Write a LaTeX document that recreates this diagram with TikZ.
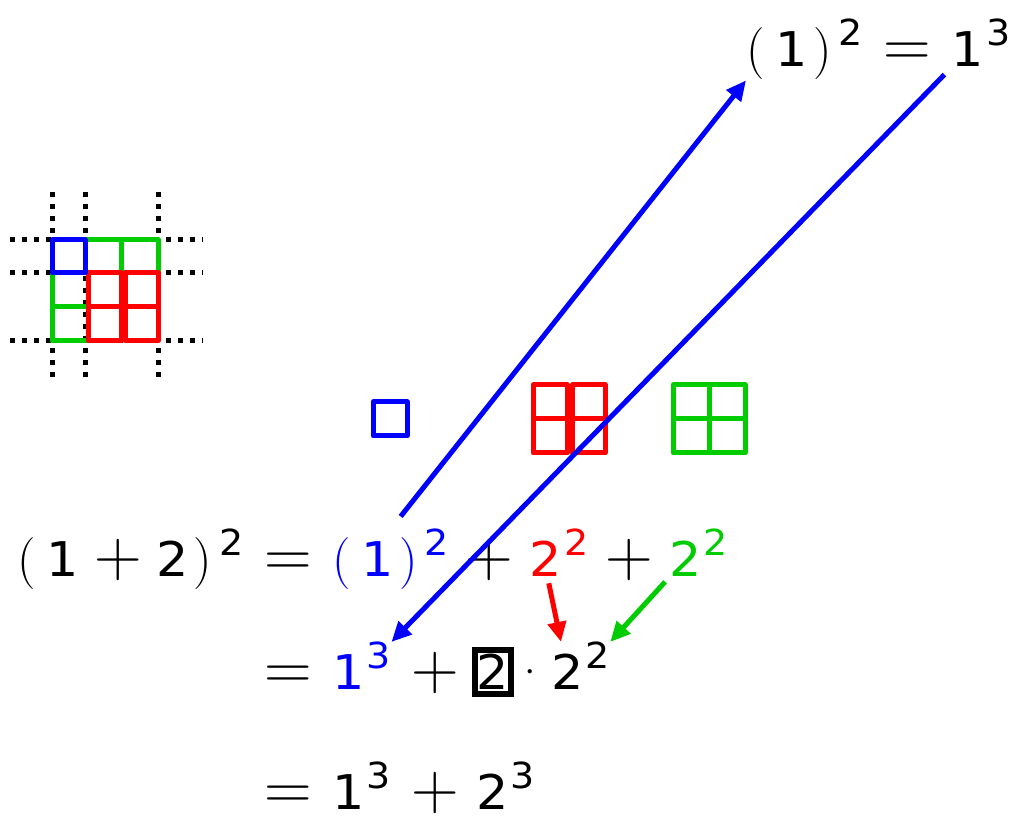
\documentclass[tikz,border=0pt]{standalone}
\usepackage{fontspec}
\newfontfamily\digfont[Scale=0.92, FakeStretch=1.06]{DejaVu Sans}
\usetikzlibrary{arrows.meta, positioning}
\definecolor{oneblue}{RGB}{0,0,255}
\definecolor{twored}{RGB}{255,0,0}
\definecolor{twogreen}{RGB}{0,204,0}
\newcommand{\dg}[1]{{\digfont #1}}
\newcommand{\pw}[1]{\kern1pt\raisebox{10.5pt}{\fontsize{19.5}{23}\selectfont\digfont #1}}
\newcommand{\op}[1]{{\fontsize{33}{40}\selectfont #1}}
\newcommand{\pr}[1]{(\kern5.5pt#1\kern2.5pt)\kern2.5pt}

\begin{document}
\begin{tikzpicture}[x=0.5pt, y=-0.5pt,
  eq/.style={inner sep=0pt, anchor=base west, font=\fontsize{26}{31}\selectfont},
  opn/.style={eq, font=\fontsize{33}{40}\selectfont},
  cell/.style={line width=2.5pt, line join=round},
  gridline/.style={line width=2.5pt, dash pattern=on 2.5pt off 3.5pt},
  arr/.style={-{Triangle[length=10pt, width=9pt]}, line width=2.5pt},
  rel/.style={node distance=10pt},
  bin/.style={node distance=8pt}
]
\useasboundingbox (0,0) rectangle (1019,822);

% small grid
\foreach \x in {52,85,158} \draw[gridline] (\x,192) -- (\x,383);
\foreach \y in {240,273,341} \draw[gridline] (10,\y) -- (203,\y);
\draw[cell, twogreen] (85,240) rectangle (121,273) (121,240) rectangle (158,273);
\draw[cell, twogreen] (52,273) rectangle (88,307) (52,307) rectangle (88,341);
\draw[cell, twored] (88,273) rectangle (121,307) (88,307) rectangle (121,341);
\draw[cell, twored] (125,273) rectangle (158,307) (125,307) rectangle (158,341);
\draw[cell, oneblue] (52,240) rectangle (85,273);

% the squares in a row
\draw[cell, oneblue] (373,402) rectangle (407,436);
\draw[cell, twored] (533,385) rectangle (567,419) (533,419) rectangle (567,453);
\draw[cell, twored] (572,385) rectangle (605,419) (572,419) rectangle (605,453);
\draw[cell, twogreen] (673,385) rectangle (709,419) (709,385) rectangle (745,419);
\draw[cell, twogreen] (673,419) rectangle (709,453) (709,419) rectangle (745,453);

% top right
\node[eq] (topsq) at (746,67) {\pr{\dg{1}}\pw{2}};
\node[opn, rel, base right=of topsq] (topeq) {=};
\node[eq, rel, base right=of topeq] (topcube) {\dg{1}\pw{3}};

% first line
\node[eq] (lhs) at (17,577) {\pr{\dg{1}\kern7.5pt\op{+}\kern7.5pt\dg{2}}\pw{2}};
\node[opn, rel, base right=of lhs] (eqa) {=};
\node[eq, rel, base right=of eqa, text=oneblue] (onesq) {\pr{\dg{1}}\pw{2}};
\node[opn, bin, base right=of onesq] (plusa) {+};
\node[eq, bin, base right=of plusa, text=twored] (redsq) {\dg{2}\pw{2}};
\node[opn, bin, base right=of redsq] (plusb) {+};
\node[eq, bin, base right=of plusb, text=twogreen] (greensq) {\dg{2}\pw{2}};

% second line
\node[opn] (eqb) at (eqa.base west |- 0,690) {=};
\node[eq, rel, base right=of eqb, text=oneblue] (onecube) {\dg{1}\pw{3}};
\node[opn, rel, base right=of onecube] (plusc) {+};
\node[eq, node distance=6pt, base right=of plusc, draw, line width=3pt,
      minimum width=18pt, minimum height=22pt] (boxed) {\dg{2}};
\node[eq, node distance=-1.5pt, base right=of boxed] (dot) {·};
\node[eq, node distance=1pt, base right=of dot] (twosq) {\dg{2}\pw{2}};

% third line
\node[opn] (eqc) at (eqa.base west |- 0,810) {=};
\node[eq, rel, base right=of eqc] (cubea) {\dg{1}\pw{3}};
\node[opn, rel, base right=of cubea] (plusd) {+};
\node[eq, bin, base right=of plusd] (cubeb) {\dg{2}\pw{3}};

\draw[arr, oneblue, shorten <=8pt] (onesq.north) -- (topsq.south west);
\draw[arr, oneblue, shorten <=5pt] (topcube.south west) -- (onecube.north east);
\draw[arr, twored, shorten <=3pt] ([xshift=9pt]redsq.south west) -- ([xshift=5pt]twosq.north west);
\draw[arr, twogreen, shorten <=3pt] (greensq.south west) -- (twosq.north east);
\end{tikzpicture}
\end{document}
